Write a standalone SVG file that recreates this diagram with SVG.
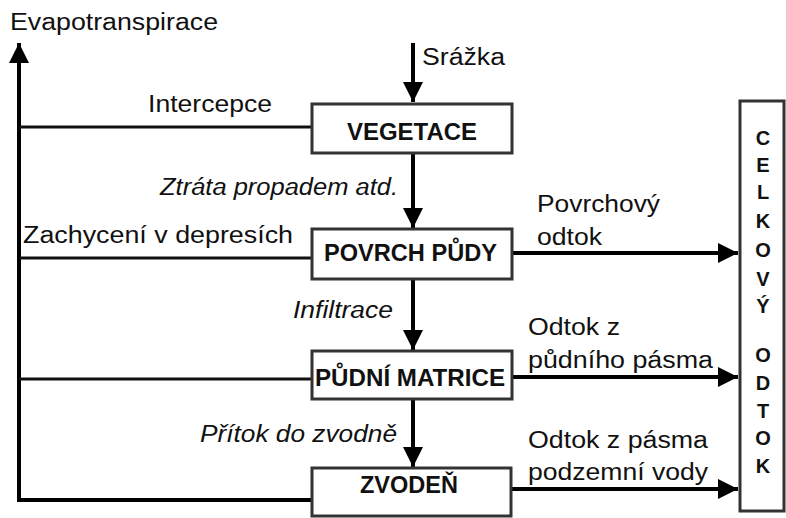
<svg xmlns="http://www.w3.org/2000/svg" width="786" height="518" viewBox="0 0 786 518">
<style>
text{font-family:"Liberation Sans",Arial,sans-serif;fill:#111;}
.t{font-size:23px;}
.i{font-size:23px;font-style:italic;}
.b{font-size:23px;font-weight:bold;}
.v{font-size:20px;font-weight:bold;text-anchor:middle;}
.box{fill:#fff;stroke:#333;stroke-width:3;}
.ln{fill:none;stroke:#111;stroke-width:3;}
.ar{fill:none;stroke:#000;stroke-width:4;marker-end:url(#ah);}
</style>
<defs>
<marker id="ah" markerUnits="userSpaceOnUse" markerWidth="20" markerHeight="20" refX="20" refY="10" orient="auto">
<path d="M0,0 L20,10 L0,20 z" fill="#000"/>
</marker>
</defs>
<rect width="786" height="518" fill="#fff"/>
<g id="connectors">
<path class="ar" d="M311,500 H19 V43"/>
<line class="ln" x1="19" y1="127" x2="311" y2="127"/>
<line class="ln" x1="19" y1="258" x2="311" y2="258"/>
<line class="ln" x1="19" y1="379" x2="311" y2="379"/>
<line class="ar" x1="413" y1="43" x2="413" y2="102"/>
<line class="ar" x1="413" y1="154" x2="413" y2="228"/>
<line class="ar" x1="413" y1="280" x2="413" y2="350"/>
<line class="ar" x1="413" y1="400" x2="413" y2="467"/>
<line class="ar" x1="513" y1="253" x2="738" y2="253"/>
<line class="ar" x1="513" y1="377" x2="738" y2="377"/>
<line class="ar" x1="512" y1="489" x2="738" y2="489"/>
</g>
<g id="labels">
<text class="t" x="10" y="30" textLength="208" lengthAdjust="spacingAndGlyphs">Evapotranspirace</text>
<text class="t" x="422" y="65" textLength="83" lengthAdjust="spacingAndGlyphs">Srážka</text>
<text class="t" x="148" y="112" textLength="124" lengthAdjust="spacingAndGlyphs">Intercepce</text>
<text class="i" x="160" y="195" textLength="238" lengthAdjust="spacingAndGlyphs">Ztráta propadem atd.</text>
<text class="t" x="23" y="243" textLength="270" lengthAdjust="spacingAndGlyphs">Zachycení v depresích</text>
<text class="t" x="537" y="212" textLength="123" lengthAdjust="spacingAndGlyphs">Povrchový</text>
<text class="t" x="537" y="245" textLength="65" lengthAdjust="spacingAndGlyphs">odtok</text>
<text class="i" x="293" y="318" textLength="100" lengthAdjust="spacingAndGlyphs">Infiltrace</text>
<text class="t" x="528" y="335" textLength="92" lengthAdjust="spacingAndGlyphs">Odtok z</text>
<text class="t" x="528" y="368" textLength="185" lengthAdjust="spacingAndGlyphs">půdního pásma</text>
<text class="i" x="200" y="442" textLength="197" lengthAdjust="spacingAndGlyphs">Přítok do zvodně</text>
<text class="t" x="528" y="448" textLength="180" lengthAdjust="spacingAndGlyphs">Odtok z pásma</text>
<text class="t" x="528" y="480" textLength="180" lengthAdjust="spacingAndGlyphs">podzemní vody</text>
</g>
<g id="vegetace">
<rect class="box" x="312" y="104" width="200" height="49"/>
<text class="b" x="347" y="140" textLength="130" lengthAdjust="spacingAndGlyphs">VEGETACE</text>
</g>
<g id="povrch-pudy">
<rect class="box" x="312" y="229" width="200" height="50"/>
<text class="b" x="324" y="261" textLength="173" lengthAdjust="spacingAndGlyphs">POVRCH PŮDY</text>
</g>
<g id="pudni-matrice">
<rect class="box" x="312" y="351" width="200" height="48"/>
<text class="b" x="315" y="386" textLength="190" lengthAdjust="spacingAndGlyphs">PŮDNÍ MATRICE</text>
</g>
<g id="zvoden">
<rect class="box" x="312" y="468" width="199" height="48"/>
<text class="b" x="360" y="493" textLength="98" lengthAdjust="spacingAndGlyphs">ZVODEŇ</text>
</g>
<g id="celkovy-odtok">
<rect class="box" x="740" y="101" width="44" height="410"/>
<text class="v" x="763" y="145">C</text>
<text class="v" x="763" y="172">E</text>
<text class="v" x="763" y="199">L</text>
<text class="v" x="763" y="228">K</text>
<text class="v" x="763" y="257">O</text>
<text class="v" x="763" y="286">V</text>
<text class="v" x="763" y="313">Ý</text>
<text class="v" x="763" y="362">O</text>
<text class="v" x="763" y="390">D</text>
<text class="v" x="763" y="418">T</text>
<text class="v" x="763" y="445">O</text>
<text class="v" x="763" y="473">K</text>
</g>
</svg>
